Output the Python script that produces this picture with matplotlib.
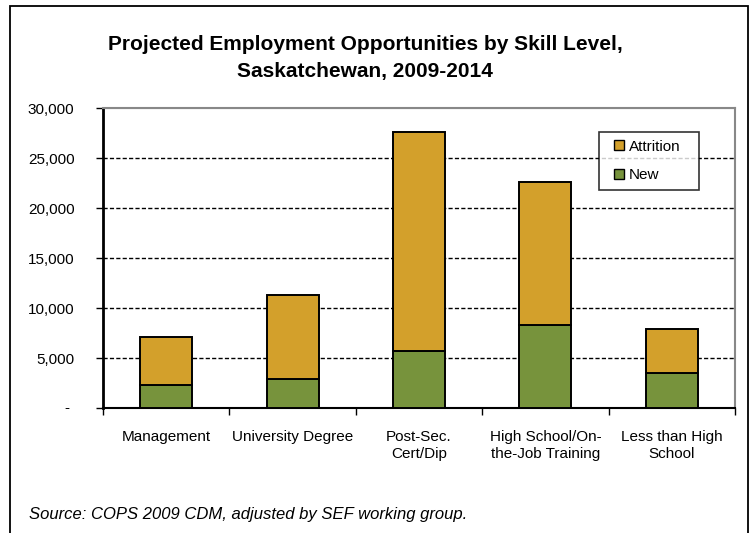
import matplotlib
matplotlib.use("Agg")
import matplotlib.pyplot as plt
from matplotlib.patches import Rectangle
from matplotlib.lines import Line2D
import numpy as np

plt.rcParams['font.family'] = ['Liberation Sans', 'DejaVu Sans']
plt.rcParams['lines.scale_dashes'] = False

categories = ["Management", "University Degree", "Post-Sec.\nCert/Dip",
              "High School/On-\nthe-Job Training", "Less than High\nSchool"]
new_vals = [2350, 2900, 5750, 8350, 3550]
totals = [7150, 11350, 27600, 22600, 7900]
attrition_vals = [t - n for t, n in zip(totals, new_vals)]
y_ticks = [0, 5000, 10000, 15000, 20000, 25000, 30000]
y_tick_labels = ["", "5,000", "10,000", "15,000", "20,000", "25,000", "30,000"]

c_attr = "#D3A02B"
c_new = "#77933C"

W, H = 751, 533
fig = plt.figure(figsize=(W / 100, H / 100), dpi=100)

# outer chart border
fig.patches.append(Rectangle((10 / W, -0.05), (748 - 10) / W, 1.05 - 6 / H,
                             transform=fig.transFigure, fill=False,
                             edgecolor="black", linewidth=1.3, zorder=0))

ax = fig.add_axes([103 / W, 1 - 408 / H, (735 - 103) / W, 300 / H])
x = np.arange(len(categories))
bw = 0.41
ax.bar(x, new_vals, bw, color=c_new, edgecolor="black", linewidth=1.4, zorder=3, label="New")
ax.bar(x, attrition_vals, bw, bottom=new_vals, color=c_attr, edgecolor="black",
       linewidth=1.4, zorder=3, label="Attrition")

ax.set_xlim(-0.5, len(categories) - 0.5)
ax.set_ylim(0, 30000)
ax.set_yticks(y_ticks)
ax.set_yticklabels(y_tick_labels, fontsize=11)
for yv in y_ticks[1:-1]:
    ax.axhline(yv, color="black", linewidth=1.0, dashes=(3, 1.6), zorder=1)
ax.axhline(30000, color="#888888", linewidth=1.5, zorder=1)

ax.tick_params(axis="y", direction="out", length=5, width=1, pad=15.5, colors="black")
ax.set_xticks(x)
ax.set_xticklabels(categories, fontsize=11, linespacing=1.25)
ax.tick_params(axis="x", which="major", length=0, pad=16)
ax.set_xticks(np.arange(len(categories) + 1) - 0.5, minor=True)
ax.tick_params(axis="x", which="minor", direction="out", length=5, width=1)

ax.text(-0.057, 0, "-", transform=ax.get_yaxis_transform(), ha="center", va="center",
        fontsize=11)

for s in ["top", "right"]:
    ax.spines[s].set_color("#888888")
    ax.spines[s].set_linewidth(1.5)
ax.spines["left"].set_linewidth(2)
ax.spines["bottom"].set_linewidth(1.5)

handles = [Line2D([], [], marker="s", linestyle="none", markersize=7,
                  markerfacecolor=c_attr, markeredgecolor="black", markeredgewidth=1),
           Line2D([], [], marker="s", linestyle="none", markersize=7,
                  markerfacecolor=c_new, markeredgecolor="black", markeredgewidth=1)]
leg = fig.legend(handles, ["Attrition", "New"], loc="upper left",
                 bbox_to_anchor=(599 / W, 1 - 191 / H, 100 / W, 59 / H), mode="expand",
                 fontsize=11, frameon=True, fancybox=False, handlelength=1.68,
                 handletextpad=-0.25, labelspacing=0.95, borderpad=0.5, borderaxespad=0)
leg.get_frame().set_edgecolor("black")
leg.get_frame().set_linewidth(1.2)
leg.set_zorder(10)

fig.text(365 / W, 1 - 45 / H, "Projected Employment Opportunities by Skill Level,",
         ha="center", va="center", fontsize=15, fontweight="bold")
fig.text(365 / W, 1 - 71 / H, "Saskatchewan, 2009-2014",
         ha="center", va="center", fontsize=15, fontweight="bold")

fig.text(29 / W, 1 - 514 / H, "Source: COPS 2009 CDM, adjusted by SEF working group.",
         ha="left", va="center", fontsize=12, style="italic")

fig.savefig("out.png", dpi=100)
